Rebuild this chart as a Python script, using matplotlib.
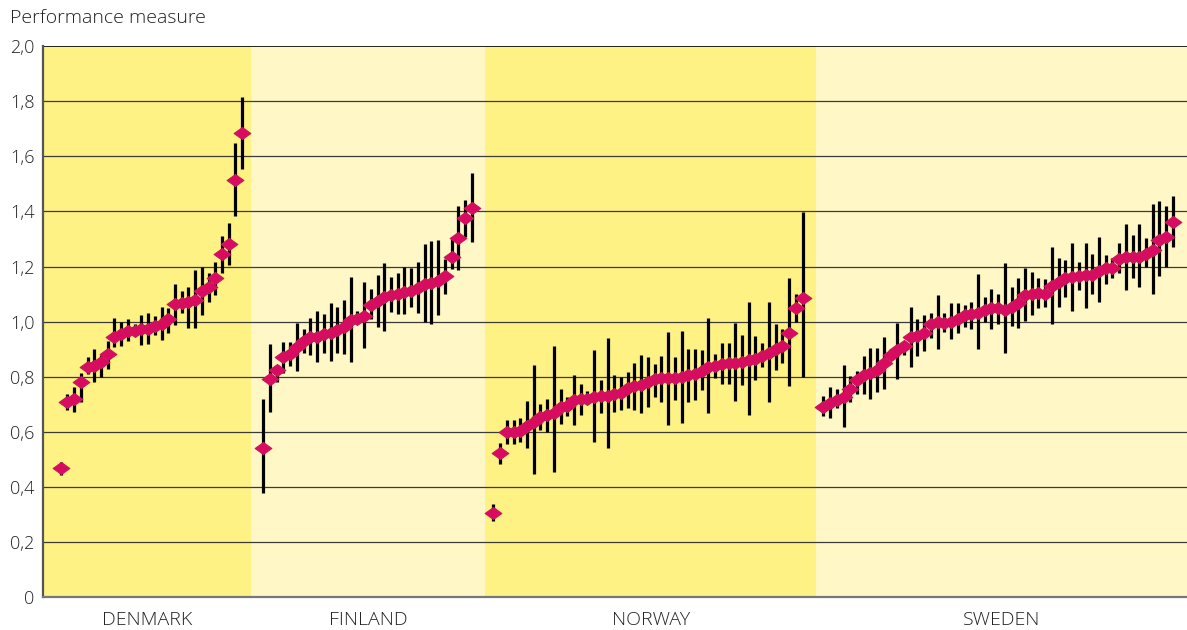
import matplotlib
matplotlib.use("Agg")
import matplotlib.pyplot as plt
from matplotlib.path import Path
import numpy as np

# ---------------- data ----------------
countries = ["DENMARK", "FINLAND", "NORWAY", "SWEDEN"]

denmark_val = [0.47, 0.71, 0.72, 0.78, 0.836, 0.838, 0.853, 0.884, 0.945, 0.957, 0.967, 0.967, 0.972, 0.972,
               0.984, 0.991, 1.008, 1.063, 1.068, 1.072, 1.078, 1.11, 1.124, 1.157, 1.245, 1.281, 1.514, 1.683]
denmark_lo = [0.445, 0.68, 0.673, 0.709, 0.81, 0.78, 0.80, 0.83, 0.907, 0.91, 0.93, 0.95, 0.915, 0.92,
              0.95, 0.933, 0.96, 0.987, 1.03, 0.976, 0.976, 1.024, 1.07, 1.096, 1.177, 1.204, 1.383, 1.552]
denmark_hi = [0.49, 0.739, 0.763, 0.813, 0.87, 0.90, 0.88, 0.93, 1.013, 1.00, 1.01, 0.99, 1.024, 1.03,
              1.02, 1.054, 1.05, 1.136, 1.11, 1.127, 1.187, 1.199, 1.176, 1.217, 1.31, 1.359, 1.647, 1.816]

finland_val = [0.54, 0.791, 0.824, 0.872, 0.881, 0.909, 0.929, 0.945, 0.945, 0.957, 0.96, 0.969, 0.981, 1.005,
               1.009, 1.021, 1.06, 1.076, 1.088, 1.096, 1.1, 1.106, 1.112, 1.123, 1.135, 1.139, 1.148, 1.166,
               1.235, 1.302, 1.375, 1.413]
finland_lo = [0.377, 0.673, 0.78, 0.812, 0.84, 0.822, 0.886, 0.878, 0.854, 0.887, 0.857, 0.887, 0.884, 0.854,
              0.99, 0.903, 1.008, 0.981, 0.967, 1.036, 1.027, 1.027, 1.054, 1.03, 0.997, 0.991, 1.024, 1.1,
              1.19, 1.187, 1.308, 1.29]
finland_hi = [0.72, 0.918, 0.84, 0.927, 0.927, 0.996, 0.973, 1.013, 1.038, 1.027, 1.066, 1.054, 1.08, 1.163,
              1.04, 1.145, 1.117, 1.169, 1.213, 1.163, 1.175, 1.197, 1.193, 1.217, 1.28, 1.292, 1.296, 1.229,
              1.30, 1.419, 1.441, 1.538]

norway_val = [0.307, 0.522, 0.598, 0.598, 0.604, 0.622, 0.636, 0.654, 0.661, 0.67, 0.691, 0.694, 0.715, 0.721,
              0.721, 0.727, 0.730, 0.730, 0.739, 0.742, 0.758, 0.766, 0.77, 0.781, 0.791, 0.794, 0.794, 0.794,
              0.80, 0.806, 0.809, 0.821, 0.836, 0.84, 0.846, 0.851, 0.851, 0.854, 0.86, 0.863, 0.875, 0.887,
              0.899, 0.912, 0.96, 1.05, 1.086]
norway_lo = [0.277, 0.485, 0.555, 0.555, 0.564, 0.542, 0.449, 0.606, 0.60, 0.453, 0.63, 0.657, 0.624, 0.661,
             0.70, 0.564, 0.669, 0.54, 0.673, 0.68, 0.685, 0.681, 0.667, 0.691, 0.727, 0.709, 0.624, 0.715,
             0.633, 0.709, 0.715, 0.751, 0.667, 0.794, 0.773, 0.775, 0.713, 0.77, 0.663, 0.788, 0.836, 0.709,
             0.826, 0.851, 0.766, 0.999, 0.80]
norway_hi = [0.338, 0.558, 0.642, 0.645, 0.65, 0.711, 0.842, 0.703, 0.718, 0.911, 0.754, 0.727, 0.806, 0.772,
             0.75, 0.897, 0.788, 0.939, 0.808, 0.80, 0.818, 0.851, 0.878, 0.872, 0.848, 0.876, 0.963, 0.872,
             0.967, 0.90, 0.90, 0.897, 1.015, 0.882, 0.923, 0.923, 0.996, 0.951, 1.072, 0.948, 0.921, 1.07,
             0.991, 0.972, 1.157, 1.10, 1.399]

sweden_val = [0.691, 0.705, 0.715, 0.727, 0.757, 0.788, 0.806, 0.814, 0.826, 0.851, 0.878, 0.897, 0.911, 0.945,
              0.947, 0.96, 0.991, 0.999, 0.996, 0.999, 1.011, 1.024, 1.027, 1.032, 1.042, 1.048, 1.048, 1.044,
              1.054, 1.066, 1.096, 1.102, 1.105, 1.102, 1.129, 1.145, 1.157, 1.163, 1.165, 1.169, 1.171, 1.185,
              1.193, 1.193, 1.229, 1.233, 1.233, 1.235, 1.245, 1.26, 1.296, 1.306, 1.362]
sweden_lo = [0.657, 0.652, 0.685, 0.616, 0.709, 0.739, 0.737, 0.721, 0.745, 0.757, 0.86, 0.791, 0.88, 0.836,
             0.875, 0.894, 0.941, 0.899, 0.963, 0.936, 0.96, 0.981, 0.975, 0.899, 0.999, 0.972, 0.991, 0.888,
             0.985, 0.978, 1.003, 1.024, 1.048, 1.054, 0.991, 1.054, 1.09, 1.038, 1.114, 1.051, 1.099, 1.072,
             1.136, 1.16, 1.177, 1.114, 1.157, 1.124, 1.197, 1.102, 1.165, 1.197, 1.272]
sweden_hi = [0.73, 0.763, 0.757, 0.842, 0.802, 0.82, 0.875, 0.905, 0.903, 0.943, 0.90, 0.996, 0.93, 1.054,
             1.011, 1.024, 1.033, 1.096, 1.03, 1.066, 1.066, 1.062, 1.072, 1.172, 1.09, 1.12, 1.102, 1.211,
             1.124, 1.16, 1.195, 1.181, 1.157, 1.153, 1.272, 1.232, 1.223, 1.284, 1.217, 1.284, 1.245, 1.306,
             1.241, 1.23, 1.287, 1.354, 1.314, 1.354, 1.302, 1.426, 1.438, 1.419, 1.455]

y_ticks = [0, 0.2, 0.4, 0.6, 0.8, 1.0, 1.2, 1.4, 1.6, 1.8, 2.0]
y_tick_labels = ["0", "0,2", "0,4", "0,6", "0,8", "1,0", "1,2", "1,4", "1,6", "1,8", "2,0"]
y_title = "Performance measure"

# ---------------- layout (slot units) ----------------
band_edges = [0.0, 30.9, 65.8, 115.0, 170.2]
first_slot = [2.63, 32.78, 67.0, 116.1]
band_colors = ["#FFF284", "#FFF8C6", "#FFF284", "#FFF8C6"]

series = [(denmark_val, denmark_lo, denmark_hi),
          (finland_val, finland_lo, finland_hi),
          (norway_val, norway_lo, norway_hi),
          (sweden_val, sweden_lo, sweden_hi)]

plt.rcParams['font.family'] = ['Open Sans', 'DejaVu Sans']
plt.rcParams['font.weight'] = 'light'

fig = plt.figure(figsize=(11.87, 6.30), dpi=100)
ax = fig.add_axes([43 / 1187, 1 - 597.3 / 630, 1 - 43 / 1187, (597.3 - 46) / 630])

for i in range(4):
    ax.axvspan(band_edges[i], band_edges[i + 1], color=band_colors[i], lw=0, zorder=0)

for yv in y_ticks[1:-1]:
    ax.axhline(yv, color="#3a3a3a", lw=0.9, zorder=1)
ax.axhline(2.0, color="#111111", lw=1.3, zorder=1)

diamond = Path([(-1, 0), (0, 0.72), (1, 0), (0, -0.72), (-1, 0)],
               [Path.MOVETO, Path.LINETO, Path.LINETO, Path.LINETO, Path.CLOSEPOLY])

for (vals, lo, hi), start in zip(series, first_slot):
    vals = np.array(vals); lo = np.array(lo); hi = np.array(hi)
    x = start + np.arange(len(vals))
    ax.vlines(x, lo, hi, color="black", lw=2.3, zorder=2)
    ax.plot(x, vals, linestyle="none", marker=diamond, markersize=12,
            markerfacecolor="#DA0A62", markeredgecolor="#C8185A", markeredgewidth=0.8, zorder=3)

ax.set_xlim(band_edges[0], band_edges[-1])
ax.set_ylim(0, 2.0)
ax.set_yticks(y_ticks)
ax.set_yticklabels(y_tick_labels, fontsize=13, color="#222222")
centers = [(band_edges[i] + band_edges[i + 1]) / 2 for i in range(4)]
ax.set_xticks(centers)
ax.set_xticklabels(countries, fontsize=14, color="#222222")
ax.tick_params(axis="y", length=0, pad=6)
ax.tick_params(axis="x", length=0, pad=10)

for s in ["top", "right"]:
    ax.spines[s].set_visible(False)
ax.spines["left"].set_color("#555555")
ax.spines["left"].set_linewidth(1.6)
ax.spines["bottom"].set_color("#777777")
ax.spines["bottom"].set_linewidth(1.6)

fig.text(10 / 1187, 1 - 18 / 630, y_title, fontsize=14, color="#222222", ha="left", va="center")

fig.savefig("out.png", dpi=100)
